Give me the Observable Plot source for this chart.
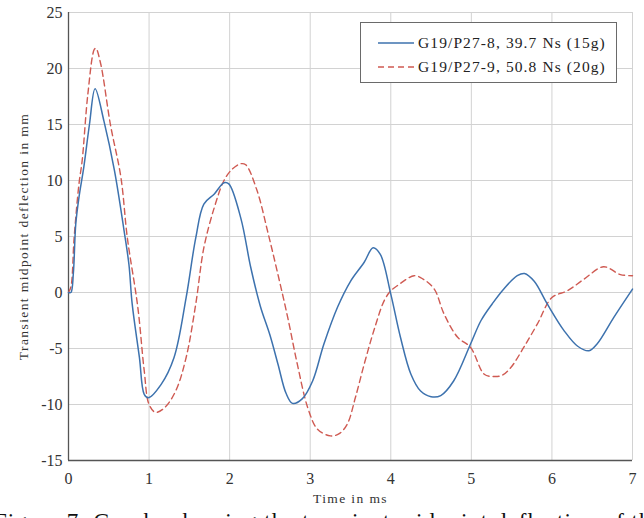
<!DOCTYPE html>
<html>
<head>
<meta charset="utf-8">
<script src="https://cdn.jsdelivr.net/npm/d3@7"></script>
<script src="https://cdn.jsdelivr.net/npm/@observablehq/plot@0.6"></script>
<style>
  html, body { margin: 0; padding: 0; background: #fff; overflow: hidden; }
  #wrap { position: relative; width: 644px; height: 518px; overflow: hidden; }
  #legend { position: absolute; left: 360px; top: 22px; width: 255px; height: 59px;
    border: 1.5px solid #6a6a6a; background: #fff; font-family: "Liberation Serif", "Times New Roman", serif;
    font-size: 15.5px; color: #222; letter-spacing: 1.1px; }
  .row { position: absolute; left: 0; height: 20px; display: flex; align-items: center; }
  .row svg { margin-left: 17px; margin-right: 4px; }
  #caption { position: absolute; left: -6px; top: 509px; white-space: nowrap;
    font-family: "Liberation Serif", "Times New Roman", serif; font-size: 23px; color: #111; letter-spacing: 1px; }
</style>
</head>
<body>
<div id="wrap">
  <div id="chart"></div>
  <div id="legend"></div>
  <div id="caption"></div>
</div>
<script>
const seriesNames = ["G19/P27-8, 39.7 Ns (15g)", "G19/P27-9, 50.8 Ns (20g)"];
const captionText = "Figure 7: Graphs showing the transient midpoint deflection of the panels";
const xLabel = "Time in ms";
const yLabel = "Transient midpoint deflection in mm";
const xTicks = [0, 1, 2, 3, 4, 5, 6, 7];
const yTicks = [-15, -10, -5, 0, 5, 10, 15, 20, 25];

const t8 = [0,0.03,0.06,0.09,0.13,0.19,0.26,0.33,0.44,0.57,0.69,0.75,0.79,0.88,0.94,0.99,1.15,1.31,1.46,1.58,1.68,1.81,1.93,1.99,2.14,2.26,2.38,2.50,2.60,2.70,2.78,2.90,3.03,3.17,3.34,3.50,3.67,3.78,3.87,4.0,4.12,4.25,4.37,4.50,4.62,4.78,4.99,5.12,5.26,5.40,5.57,5.66,5.78,5.94,6.15,6.32,6.46,6.56,6.77,7.0];
const d8 = [0,0,1.7,6.1,8.5,11.2,15,18.2,15.3,10.9,5.5,2.5,-1.0,-5.8,-9.1,-9.4,-8.2,-5.8,-0.45,4.9,7.9,8.8,9.8,9.7,6.6,2.3,-1.2,-3.8,-6.4,-9.0,-9.9,-9.5,-7.9,-4.6,-1.3,1.0,2.7,4.0,3.4,-0.15,-4.0,-7.3,-8.8,-9.3,-9.2,-7.9,-4.6,-2.5,-1.0,0.3,1.5,1.7,1.0,-1.0,-3.4,-4.8,-5.2,-4.6,-2.2,0.3];

const t9 = [0,0.03,0.07,0.13,0.17,0.24,0.32,0.34,0.40,0.52,0.65,0.73,0.86,0.94,1.0,1.08,1.19,1.33,1.46,1.58,1.68,1.81,1.93,2.03,2.14,2.20,2.34,2.47,2.59,2.72,2.84,2.97,3.09,3.25,3.36,3.46,3.56,3.67,3.79,3.92,4.0,4.08,4.29,4.40,4.54,4.66,4.83,4.99,5.16,5.27,5.38,5.49,5.65,5.82,6.0,6.19,6.40,6.64,6.85,7.0];
const d9 = [0,0.5,4.9,9.7,11.8,17.7,21.7,21.8,20.4,15.0,10.3,4.9,-1.3,-7.0,-10.0,-10.7,-10.3,-8.8,-5.8,-1.0,4.0,7.6,10.0,11.0,11.5,11.4,9.1,5.5,1.9,-2.2,-6.4,-10.3,-12.2,-12.8,-12.6,-11.75,-9.4,-6.4,-3.4,-0.7,0.15,0.6,1.5,1.2,0.3,-1.9,-4.0,-4.9,-7.3,-7.5,-7.4,-6.7,-4.9,-2.8,-0.45,0.15,1.2,2.3,1.6,1.5];

const colors = ["#3d72ae", "#cf5a52"];

const s8 = t8.map((t, i) => ({t, d: d8[i]}));
const s9 = t9.map((t, i) => ({t, d: d9[i]}));

const font = "'Liberation Serif', 'Times New Roman', serif";
const fmt = d => String(d);

const chart = Plot.plot({
  width: 644,
  height: 518,
  marginLeft: 68,
  marginRight: 12,
  marginTop: 12,
  marginBottom: 58,
  style: { fontFamily: font, fontSize: "16px", color: "#333", background: "#fff" },
  x: { domain: [0, 7] },
  y: { domain: [-15, 25] },
  marks: [
    Plot.ruleX(xTicks, { stroke: "#d2d2d2", strokeWidth: 1 }),
    Plot.ruleY(yTicks, { stroke: "#d2d2d2", strokeWidth: 1 }),
    Plot.axisX({ ticks: xTicks, tickFormat: fmt, tickSize: 0, tickPadding: 12, label: xLabel, labelAnchor: "center", labelArrow: "none", labelOffset: 42, fontSize: 16 }),
    Plot.axisY({ ticks: yTicks, tickFormat: fmt, tickSize: 0, tickPadding: 6, label: yLabel, labelAnchor: "center", labelArrow: "none", labelOffset: 50, fontSize: 16 }),
    Plot.ruleX([0], { stroke: "#555", strokeWidth: 1.3 }),
    Plot.ruleY([-15], { stroke: "#555", strokeWidth: 1.3 }),
    Plot.line(s9, { x: "t", y: "d", stroke: colors[1], strokeWidth: 1.4, strokeDasharray: "6,4", curve: "catmull-rom" }),
    Plot.line(s8, { x: "t", y: "d", stroke: colors[0], strokeWidth: 1.5, curve: "catmull-rom" })
  ]
});
document.getElementById("chart").appendChild(chart);

chart.querySelectorAll("g[aria-label='x-axis label'] text, g[aria-label='y-axis label'] text").forEach(t => {
  t.style.letterSpacing = "1.4px";
  t.style.fontSize = "13.5px";
});

const legend = document.getElementById("legend");
seriesNames.forEach((name, i) => {
  const row = document.createElement("div");
  row.className = "row";
  row.style.top = (i === 0 ? 10 : 34) + "px";
  const dash = i === 1 ? ' stroke-dasharray="6,4"' : '';
  row.innerHTML = `<svg width="36" height="4"><line x1="0" y1="2" x2="36" y2="2" stroke="${colors[i]}" stroke-width="1.5"${dash}/></svg><span>${name}</span>`;
  legend.appendChild(row);
});

document.getElementById("caption").textContent = captionText;
</script>
</body>
</html>
